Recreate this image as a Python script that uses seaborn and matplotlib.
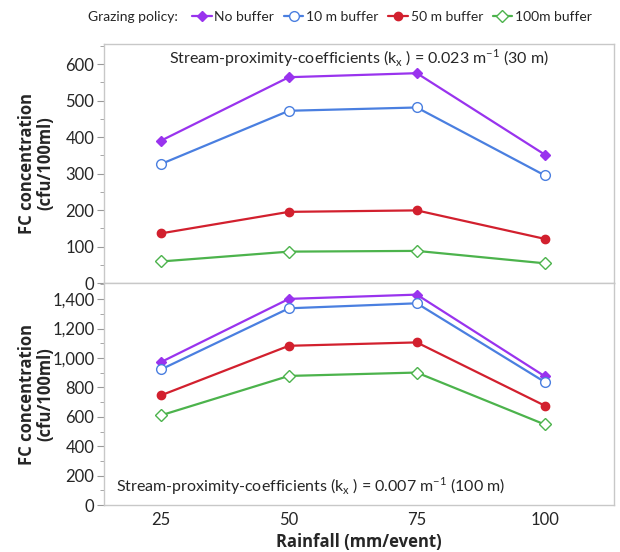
import matplotlib
matplotlib.use("Agg")
import matplotlib.pyplot as plt
import pandas as pd
import seaborn as sns
from matplotlib.ticker import AutoMinorLocator, FuncFormatter

rainfall = [25, 50, 75, 100]
policies = ["No buffer", "10 m buffer", "50 m buffer", "100m buffer"]

# top panel, k_x = 0.023 (30 m)
top_no = [390, 564, 575, 352]
top_10 = [326, 472, 481, 295]
top_50 = [136, 195, 199, 121]
top_100 = [59, 86, 88, 54]

# bottom panel, k_x = 0.007 (100 m)
bot_no = [972, 1402, 1431, 876]
bot_10 = [922, 1338, 1372, 837]
bot_50 = [746, 1083, 1106, 676]
bot_100 = [610, 878, 901, 548]

colors = ["#9933ee", "#4a7fe0", "#d2202e", "#4cb34c"]
markers = ["D", "o", "o", "D"]
filled = [True, False, True, False]
msizes = [5, 7, 6, 6]

sns.set_theme(style="white")
plt.rcParams["font.family"] = ["Lato", "DejaVu Sans"]
plt.rcParams["mathtext.fontset"] = "custom"
plt.rcParams["mathtext.rm"] = "Lato"

fig = plt.figure(figsize=(6.2, 5.52), dpi=100)
ax1 = fig.add_axes([0.168, 0.4873, 0.822, 0.4330])
ax2 = fig.add_axes([0.168, 0.0851, 0.822, 0.4022])


def draw(ax, series):
    df = pd.DataFrame({"rain": rainfall * 4,
                       "fc": sum(series, []),
                       "policy": sum([[p] * 4 for p in policies], [])})
    for i, p in enumerate(policies):
        sub = df[df.policy == p]
        sns.lineplot(data=sub, x="rain", y="fc", ax=ax, color=colors[i], lw=1.6,
                     marker=markers[i], ms=msizes[i],
                     mfc=colors[i] if filled[i] else "white",
                     mec=colors[i], mew=1.0, label=p, legend=False)
    ax.set_xlim(13.9, 113.5)
    ax.set_xlabel("")
    ax.set_ylabel("FC concentration\n(cfu/100ml)", fontsize=12, fontweight="bold",
                  family="Open Sans", linespacing=1.05)
    ax.yaxis.set_label_coords(-0.097, 0.5)
    ax.yaxis.set_minor_locator(AutoMinorLocator(2))
    ax.tick_params(axis="y", which="major", left=True, length=5, width=0.8,
                   color="#999999", labelsize=12, pad=2)
    ax.tick_params(axis="y", which="minor", left=True, length=3, width=0.6,
                   color="#999999")
    for s in ax.spines.values():
        s.set_color("#c8c8c8")
        s.set_linewidth(1.0)


draw(ax1, [top_no, top_10, top_50, top_100])
draw(ax2, [bot_no, bot_10, bot_50, bot_100])

ax1.set_ylim(0, 655)
ax1.set_yticks([0, 100, 200, 300, 400, 500, 600])
ax1.set_xticks(rainfall)
ax1.tick_params(axis="x", labelbottom=False, bottom=False)

ax2.set_ylim(0, 1510)
ax2.set_yticks([0, 200, 400, 600, 800, 1000, 1200, 1400])
ax2.yaxis.set_major_formatter(FuncFormatter(lambda v, p: f"{int(v):,}"))
ax2.set_xticks(rainfall)
ax2.tick_params(axis="x", labelsize=12, bottom=False, length=0, pad=5)
ax2.set_xlabel("Rainfall (mm/event)", fontsize=12, fontweight="bold",
               family="Open Sans")
ax2.xaxis.set_label_coords(0.5, -0.125)

ax1.text(0.5, 0.985, "Stream-proximity-coefficients (k$_\\mathregular{x}$ ) = 0.023 m$^\\mathregular{-1}$ (30 m)",
         transform=ax1.transAxes, ha="center", va="top", fontsize=11.5)
ax2.text(0.024, 0.035, "Stream-proximity-coefficients (k$_\\mathregular{x}$ ) = 0.007 m$^\\mathregular{-1}$ (100 m)",
         transform=ax2.transAxes, ha="left", va="bottom", fontsize=11.5)

handles, labels = ax1.get_legend_handles_labels()
fig.text(0.142, 0.969, "Grazing policy:", ha="left", va="center", fontsize=10)
fig.legend(handles, labels, loc="center left", bbox_to_anchor=(0.31, 0.969),
           ncol=4, frameon=False, fontsize=10, handlelength=1.4,
           handletextpad=0.2, columnspacing=0.7, borderpad=0, borderaxespad=0)

fig.savefig("out.png", dpi=100)
